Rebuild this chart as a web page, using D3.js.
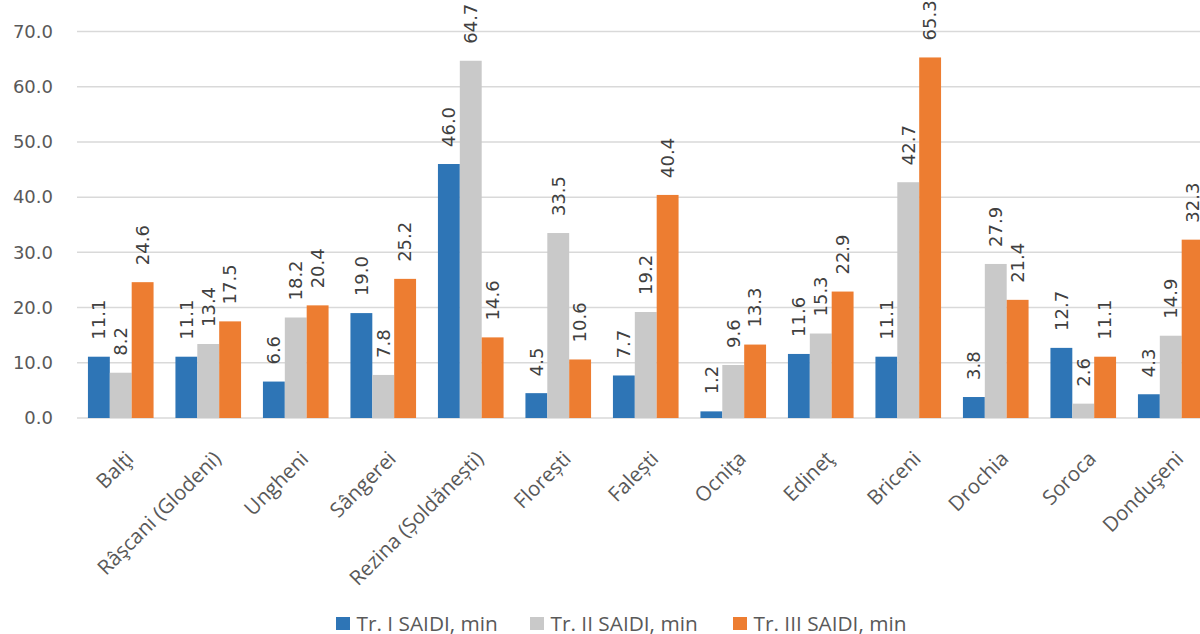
<!DOCTYPE html>
<html><head><meta charset="utf-8">
<script src="https://cdn.jsdelivr.net/npm/d3@7/dist/d3.min.js"></script>
<style>
html,body{margin:0;padding:0;background:#fff;overflow:hidden}
svg{display:block;font-family:"Open Sans",sans-serif}
</style></head>
<body>
<svg id="c" width="1200" height="634"></svg>
<script>
const categories = ["Balţi","Râşcani (Glodeni)","Ungheni","Sângerei","Rezina (Șoldănești)","Florești","Falești","Ocniţa","Edineţ","Briceni","Drochia","Soroca","Donduşeni"];
const seriesNames = ["Tr. I SAIDI, min","Tr. II SAIDI, min","Tr. III SAIDI, min"];
const tr1 = [11.1,11.1,6.6,19.0,46.0,4.5,7.7,1.2,11.6,11.1,3.8,12.7,4.3];
const tr2 = [8.2,13.4,18.2,7.8,64.7,33.5,19.2,9.6,15.3,42.7,27.9,2.6,14.9];
const tr3 = [24.6,17.5,20.4,25.2,14.6,10.6,40.4,13.3,22.9,65.3,21.4,11.1,32.3];
const yTicks = [0,10,20,30,40,50,60,70];
const colors = ["#2E75B6","#C9C9C9","#ED7D31"];

const series = [tr1,tr2,tr3];
const numFont = "DejaVu Sans";
const svg = d3.select("#c");
const x0 = d3.scaleBand().domain(categories).range([77,1214.5]).paddingInner(0.25).paddingOuter(0.125);
const x1 = d3.scaleBand().domain([0,1,2]).range([0,x0.bandwidth()]);
const y = d3.scaleLinear().domain([0,70]).range([418,31.5]);

// gridlines
svg.append("g").selectAll("line").data(yTicks).join("line")
  .attr("x1",77).attr("x2",1200)
  .attr("y1",d=>y(d)).attr("y2",d=>y(d))
  .attr("stroke","#D9D9D9").attr("stroke-width",1.5);

// y tick labels
const yAxis = d3.axisLeft(y).tickValues(yTicks).tickFormat(d3.format(".1f")).tickSize(0).tickPadding(0);
const ya = svg.append("g").attr("transform","translate(53,0)").call(yAxis);
ya.select(".domain").remove();
ya.selectAll("text").attr("font-size",18).attr("fill","#595959").attr("font-family",numFont);

// bars
const groups = svg.append("g").selectAll("g").data(categories).join("g")
  .attr("transform",d=>`translate(${x0(d)},0)`);
groups.selectAll("rect").data((d,i)=>series.map((s,k)=>({k,v:s[i]}))).join("rect")
  .attr("x",d=>x1(d.k)).attr("width",x1.bandwidth())
  .attr("y",d=>y(d.v)).attr("height",d=>y(0)-y(d.v))
  .attr("fill",d=>colors[d.k]);
groups.selectAll("text").data((d,i)=>series.map((s,k)=>({k,v:s[i]}))).join("text")
  .attr("transform",d=>`translate(${x1(d.k)+x1.bandwidth()/2},${y(d.v)-17}) rotate(-90)`)
  .attr("dy","0.35em").attr("text-anchor","start")
  .attr("font-size",18).attr("font-family",numFont).attr("fill","#404040")
  .text(d=>d3.format(".1f")(d.v));

// x axis
const xAxis = d3.axisBottom(x0).tickSize(0).tickPadding(0);
const xa = svg.append("g").attr("transform","translate(0,418)").call(xAxis);
xa.select(".domain").remove();
xa.selectAll("text")
  .attr("font-size",20.5).attr("fill","#595959").attr("font-family","Open Sans")
  .attr("text-anchor","end").attr("dy","0")
  .attr("transform","translate(14,42) rotate(-45)");

// legend
const legX = [336,530,733];
const leg = svg.append("g").selectAll("g").data(seriesNames).join("g")
  .attr("transform",(d,i)=>`translate(${legX[i]},617)`);
leg.append("rect").attr("width",14).attr("height",13).attr("fill",(d,i)=>colors[i]);
leg.append("text").attr("x",20.5).attr("y",13.5)
  .attr("font-size",20.8).attr("font-family","Open Sans").attr("fill","#595959").text(d=>d);
</script>
</body></html>
